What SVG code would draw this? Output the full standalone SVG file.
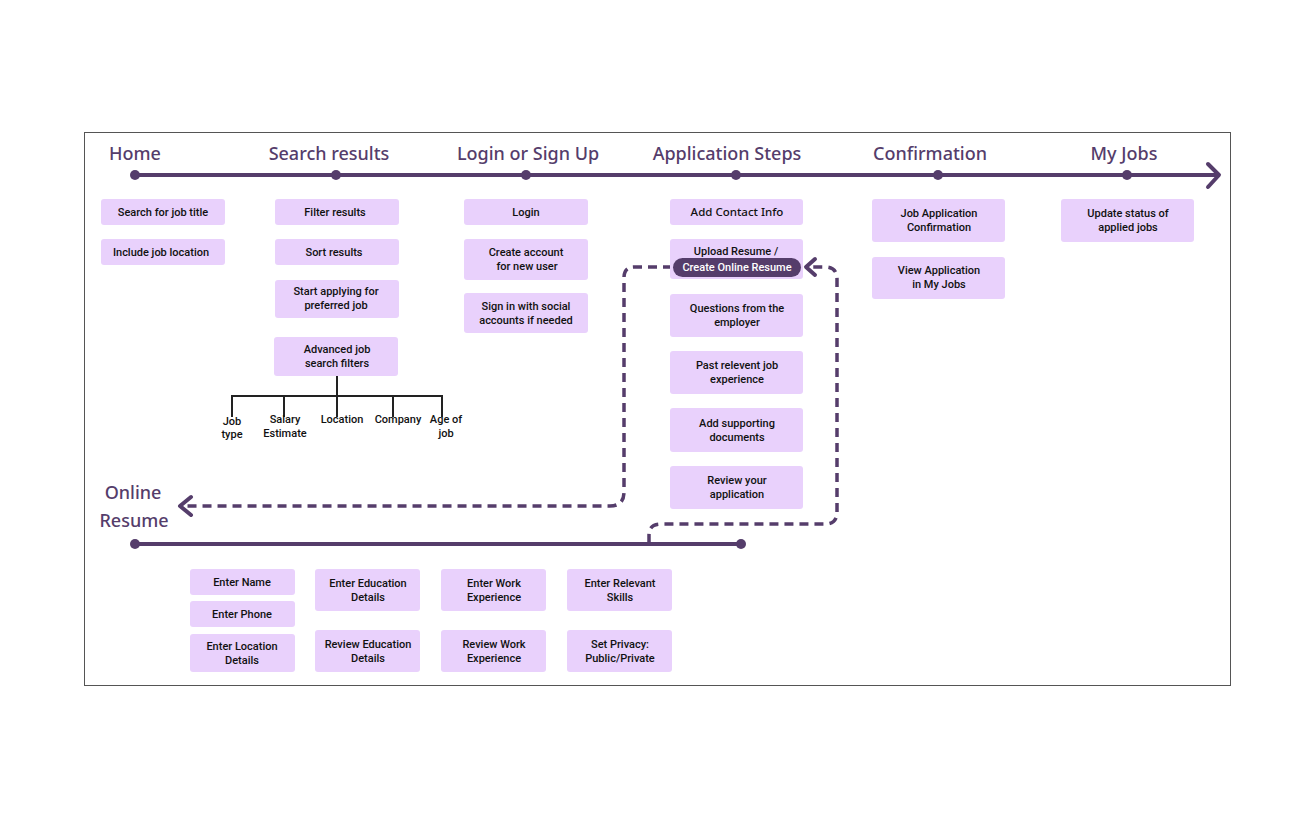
<svg xmlns="http://www.w3.org/2000/svg" width="1316" height="818" viewBox="0 0 1316 818">
<style>
.h{font-family:"Noto Sans","Liberation Sans",sans-serif;font-size:18px;font-weight:500;fill:#553d6b;text-anchor:middle}
.b{fill:#e9d1fc;}
.t{font-family:Roboto,"Liberation Sans",sans-serif;font-size:11px;font-weight:500;fill:#111;text-anchor:middle}
.s{font-family:Roboto,"Liberation Sans",sans-serif;font-size:11px;font-weight:500;fill:#111;text-anchor:middle}
.line{stroke:#553d6b;stroke-width:4;fill:none}
.dash{stroke:#553d6b;stroke-width:3.5;fill:none;stroke-dasharray:9 6}
.dot{fill:#553d6b}
.tree{stroke:#222;stroke-width:2;fill:none}
</style>
<rect width="1316" height="818" fill="#fff"/>
<rect x="84.5" y="132.5" width="1146" height="553" fill="none" stroke="#555" stroke-width="1"/>

<g id="connectors">
<line class="line" x1="135" y1="175" x2="1219" y2="175"/>
<polyline class="line" points="1208,164 1219,175 1208,187" stroke-linecap="round" stroke-linejoin="round"/>
<circle class="dot" cx="135" cy="175" r="5"/>
<circle class="dot" cx="336" cy="175" r="5"/>
<circle class="dot" cx="526" cy="175" r="5"/>
<circle class="dot" cx="736" cy="175" r="5"/>
<circle class="dot" cx="938" cy="175" r="5"/>
<circle class="dot" cx="1127" cy="175" r="5"/>
<line class="line" x1="135" y1="544" x2="741" y2="544"/>
<circle class="dot" cx="135" cy="544" r="5"/>
<circle class="dot" cx="741" cy="544" r="5"/>
<path class="tree" d="M337 376V396M232 396H442M232 395V417M284 395V417M337 395V417M393 395V417M442 395V417"/>
<path class="dash" d="M672 267H634Q624 267 624 278V492Q624 506 610 506H184"/>
<polyline class="line" points="191,497 180,506 191,515" stroke-linecap="round" stroke-linejoin="round" stroke-width="3.5"/>
<path class="dash" d="M649 543V535Q649 524 661 524H825Q837 524 837 512V279Q837 267 825 267H809"/>
<polyline class="line" points="815,259 806,267 815,275" stroke-linecap="round" stroke-linejoin="round" stroke-width="3.5"/>
</g>

<g id="headings">
<text class="h" x="135" y="160">Home</text>
<text class="h" x="329" y="160">Search results</text>
<text class="h" x="528" y="160">Login or Sign Up</text>
<text class="h" x="727" y="160">Application Steps</text>
<text class="h" x="930" y="160">Confirmation</text>
<text class="h" x="1124" y="160">My Jobs</text>
<text class="h" x="133" y="499">Online</text>
<text class="h" x="134" y="527">Resume</text>
</g>

<g id="n-search-title"><rect class="b" x="101" y="199" width="124" height="26" rx="3"/><text class="t" x="163" y="216">Search for job title</text></g>
<g id="n-job-location"><rect class="b" x="101" y="239" width="124" height="26" rx="3"/><text class="t" x="161" y="256">Include job location</text></g>

<g id="n-filter"><rect class="b" x="275" y="199" width="124" height="26" rx="3"/><text class="t" x="335" y="216">Filter results</text></g>
<g id="n-sort"><rect class="b" x="275" y="239" width="124" height="26" rx="3"/><text class="t" x="334" y="256">Sort results</text></g>
<g id="n-start"><rect class="b" x="275" y="280" width="124" height="38" rx="3"/><text class="t" x="336" y="295">Start applying for</text><text class="t" x="336" y="309">preferred job</text></g>
<g id="n-advanced"><rect class="b" x="274" y="337" width="124" height="39" rx="3"/><text class="t" x="337" y="353">Advanced job</text><text class="t" x="337" y="367">search filters</text></g>
<g id="n-tree-labels">
<text class="s" x="232" y="425">Job</text><text class="s" x="232" y="438">type</text>
<text class="s" x="285" y="423">Salary</text><text class="s" x="285" y="437">Estimate</text>
<text class="s" x="342" y="423">Location</text>
<text class="s" x="398" y="423">Company</text>
<text class="s" x="446" y="423">Age of</text><text class="s" x="446" y="437">job</text>
</g>

<g id="n-login"><rect class="b" x="464" y="199" width="124" height="26" rx="3"/><text class="t" x="526" y="216">Login</text></g>
<g id="n-create"><rect class="b" x="464" y="239" width="124" height="41" rx="3"/><text class="t" x="526" y="256">Create account</text><text class="t" x="527" y="270">for new user</text></g>
<g id="n-social"><rect class="b" x="464" y="293" width="124" height="40" rx="3"/><text class="t" x="526" y="310">Sign in with social</text><text class="t" x="526" y="324">accounts if needed</text></g>

<g id="n-contact"><rect class="b" x="670" y="199" width="133" height="26" rx="3"/><text class="t" x="737" y="216" style="font-family:'Noto Sans',sans-serif;font-size:11.5px">Add Contact Info</text></g>
<g id="n-upload"><rect class="b" x="670" y="239" width="133" height="40" rx="3"/><text class="t" x="736" y="255">Upload Resume /</text>
<rect x="673" y="258" width="128" height="19" rx="9.5" fill="#553d6b"/><text class="t" x="737" y="271" style="fill:#fff">Create Online Resume</text></g>
<g id="n-questions"><rect class="b" x="670" y="294" width="133" height="43" rx="3"/><text class="t" x="737" y="312">Questions from the</text><text class="t" x="737" y="326">employer</text></g>
<g id="n-past"><rect class="b" x="670" y="351" width="133" height="43" rx="3"/><text class="t" x="737" y="369">Past relevent job</text><text class="t" x="737" y="383">experience</text></g>
<g id="n-docs"><rect class="b" x="670" y="408" width="133" height="44" rx="3"/><text class="t" x="737" y="427">Add supporting</text><text class="t" x="737" y="441">documents</text></g>
<g id="n-review"><rect class="b" x="670" y="466" width="133" height="43" rx="3"/><text class="t" x="737" y="484">Review your</text><text class="t" x="737" y="498">application</text></g>

<g id="n-confirm"><rect class="b" x="872" y="199" width="133" height="43" rx="3"/><text class="t" x="939" y="217">Job Application</text><text class="t" x="939" y="231">Confirmation</text></g>
<g id="n-view"><rect class="b" x="872" y="257" width="133" height="42" rx="3"/><text class="t" x="939" y="274">View Application</text><text class="t" x="939" y="288">in My Jobs</text></g>

<g id="n-update"><rect class="b" x="1061" y="199" width="133" height="43" rx="3"/><text class="t" x="1128" y="217">Update status of</text><text class="t" x="1128" y="231">applied jobs</text></g>

<g id="n-name"><rect class="b" x="190" y="569" width="105" height="26" rx="3"/><text class="t" x="242" y="586">Enter Name</text></g>
<g id="n-phone"><rect class="b" x="190" y="601" width="105" height="26" rx="3"/><text class="t" x="242" y="618">Enter Phone</text></g>
<g id="n-loc"><rect class="b" x="190" y="634" width="105" height="38" rx="3"/><text class="t" x="242" y="650">Enter Location</text><text class="t" x="242" y="664">Details</text></g>
<g id="n-edu"><rect class="b" x="315" y="569" width="105" height="42" rx="3"/><text class="t" x="368" y="587">Enter Education</text><text class="t" x="368" y="601">Details</text></g>
<g id="n-redu"><rect class="b" x="315" y="630" width="105" height="42" rx="3"/><text class="t" x="368" y="648">Review Education</text><text class="t" x="368" y="662">Details</text></g>
<g id="n-work"><rect class="b" x="441" y="569" width="105" height="42" rx="3"/><text class="t" x="494" y="587">Enter Work</text><text class="t" x="494" y="601">Experience</text></g>
<g id="n-rwork"><rect class="b" x="441" y="630" width="105" height="42" rx="3"/><text class="t" x="494" y="648">Review Work</text><text class="t" x="494" y="662">Experience</text></g>
<g id="n-skills"><rect class="b" x="567" y="569" width="105" height="42" rx="3"/><text class="t" x="620" y="587">Enter Relevant</text><text class="t" x="620" y="601">Skills</text></g>
<g id="n-privacy"><rect class="b" x="567" y="630" width="105" height="42" rx="3"/><text class="t" x="620" y="648">Set Privacy:</text><text class="t" x="620" y="662">Public/Private</text></g>
</svg>
